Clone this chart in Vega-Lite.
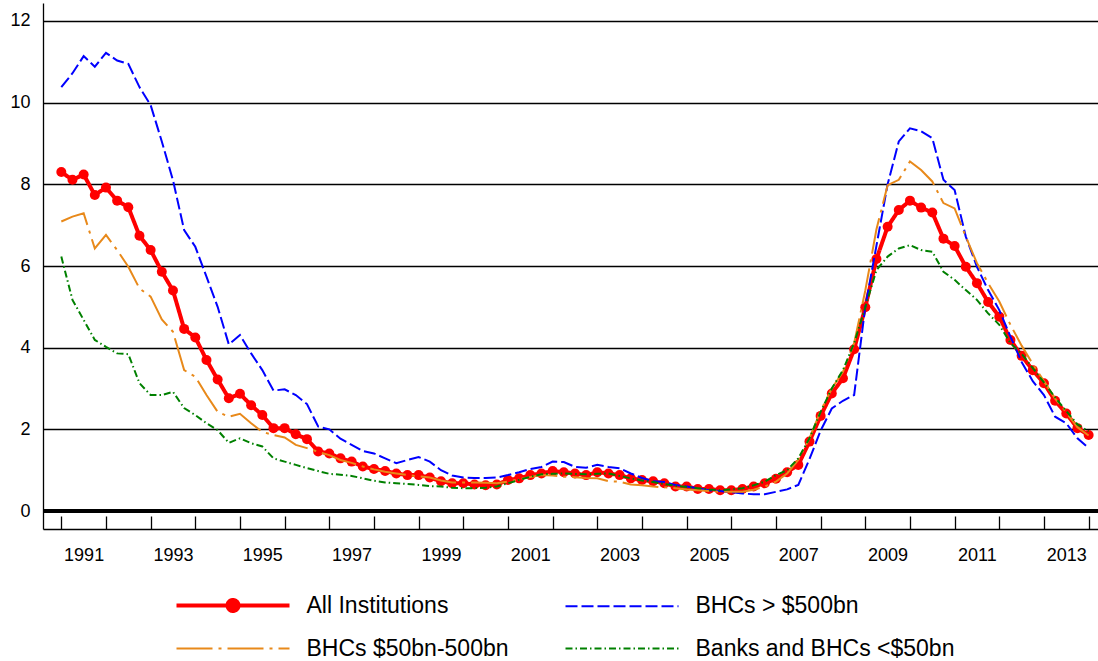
{
  "$schema": "https://vega.github.io/schema/vega-lite/v6.json",
  "width": 1055,
  "height": 526,
  "autosize": "none",
  "padding": {"left": 43, "top": 3, "right": 0, "bottom": 132},
  "background": "#ffffff",
  "config": {
    "view": {"stroke": null},
    "font": "Liberation Sans"
  },
  "data": {
    "values": [
      {"t":1991.00,"All Institutions":8.30,"BHCs > $500bn":10.38,"BHCs $50bn-500bn":7.09,"Banks and BHCs <$50bn":6.23},
      {"t":1991.25,"All Institutions":8.11,"BHCs > $500bn":10.72,"BHCs $50bn-500bn":7.21,"Banks and BHCs <$50bn":5.17},
      {"t":1991.50,"All Institutions":8.24,"BHCs > $500bn":11.14,"BHCs $50bn-500bn":7.29,"Banks and BHCs <$50bn":4.68},
      {"t":1991.75,"All Institutions":7.74,"BHCs > $500bn":10.88,"BHCs $50bn-500bn":6.43,"Banks and BHCs <$50bn":4.19},
      {"t":1992.00,"All Institutions":7.92,"BHCs > $500bn":11.22,"BHCs $50bn-500bn":6.76,"Banks and BHCs <$50bn":4.02},
      {"t":1992.25,"All Institutions":7.60,"BHCs > $500bn":11.03,"BHCs $50bn-500bn":6.39,"Banks and BHCs <$50bn":3.86},
      {"t":1992.50,"All Institutions":7.44,"BHCs > $500bn":10.95,"BHCs $50bn-500bn":5.98,"Banks and BHCs <$50bn":3.84},
      {"t":1992.75,"All Institutions":6.74,"BHCs > $500bn":10.38,"BHCs $50bn-500bn":5.45,"Banks and BHCs <$50bn":3.13},
      {"t":1993.00,"All Institutions":6.39,"BHCs > $500bn":9.94,"BHCs $50bn-500bn":5.25,"Banks and BHCs <$50bn":2.84},
      {"t":1993.25,"All Institutions":5.86,"BHCs > $500bn":9.05,"BHCs $50bn-500bn":4.69,"Banks and BHCs <$50bn":2.84},
      {"t":1993.50,"All Institutions":5.40,"BHCs > $500bn":8.10,"BHCs $50bn-500bn":4.39,"Banks and BHCs <$50bn":2.92},
      {"t":1993.75,"All Institutions":4.46,"BHCs > $500bn":6.88,"BHCs $50bn-500bn":3.45,"Banks and BHCs <$50bn":2.52},
      {"t":1994.00,"All Institutions":4.25,"BHCs > $500bn":6.47,"BHCs $50bn-500bn":3.29,"Banks and BHCs <$50bn":2.35},
      {"t":1994.25,"All Institutions":3.70,"BHCs > $500bn":5.74,"BHCs $50bn-500bn":2.84,"Banks and BHCs <$50bn":2.15},
      {"t":1994.50,"All Institutions":3.22,"BHCs > $500bn":5.00,"BHCs $50bn-500bn":2.43,"Banks and BHCs <$50bn":1.98},
      {"t":1994.75,"All Institutions":2.76,"BHCs > $500bn":4.08,"BHCs $50bn-500bn":2.31,"Banks and BHCs <$50bn":1.67},
      {"t":1995.00,"All Institutions":2.87,"BHCs > $500bn":4.31,"BHCs $50bn-500bn":2.38,"Banks and BHCs <$50bn":1.78},
      {"t":1995.25,"All Institutions":2.59,"BHCs > $500bn":3.86,"BHCs $50bn-500bn":2.15,"Banks and BHCs <$50bn":1.66},
      {"t":1995.50,"All Institutions":2.35,"BHCs > $500bn":3.45,"BHCs $50bn-500bn":1.94,"Banks and BHCs <$50bn":1.58},
      {"t":1995.75,"All Institutions":2.03,"BHCs > $500bn":2.95,"BHCs $50bn-500bn":1.86,"Banks and BHCs <$50bn":1.29},
      {"t":1996.00,"All Institutions":2.03,"BHCs > $500bn":2.98,"BHCs $50bn-500bn":1.80,"Banks and BHCs <$50bn":1.21},
      {"t":1996.25,"All Institutions":1.88,"BHCs > $500bn":2.84,"BHCs $50bn-500bn":1.62,"Banks and BHCs <$50bn":1.13},
      {"t":1996.50,"All Institutions":1.76,"BHCs > $500bn":2.62,"BHCs $50bn-500bn":1.54,"Banks and BHCs <$50bn":1.05},
      {"t":1996.75,"All Institutions":1.46,"BHCs > $500bn":2.07,"BHCs $50bn-500bn":1.45,"Banks and BHCs <$50bn":0.98},
      {"t":1997.00,"All Institutions":1.41,"BHCs > $500bn":2.00,"BHCs $50bn-500bn":1.37,"Banks and BHCs <$50bn":0.91},
      {"t":1997.25,"All Institutions":1.29,"BHCs > $500bn":1.77,"BHCs $50bn-500bn":1.25,"Banks and BHCs <$50bn":0.89},
      {"t":1997.50,"All Institutions":1.21,"BHCs > $500bn":1.62,"BHCs $50bn-500bn":1.18,"Banks and BHCs <$50bn":0.86},
      {"t":1997.75,"All Institutions":1.09,"BHCs > $500bn":1.47,"BHCs $50bn-500bn":1.09,"Banks and BHCs <$50bn":0.80},
      {"t":1998.00,"All Institutions":1.03,"BHCs > $500bn":1.41,"BHCs $50bn-500bn":1.02,"Banks and BHCs <$50bn":0.74},
      {"t":1998.25,"All Institutions":0.98,"BHCs > $500bn":1.29,"BHCs $50bn-500bn":0.96,"Banks and BHCs <$50bn":0.70},
      {"t":1998.50,"All Institutions":0.92,"BHCs > $500bn":1.17,"BHCs $50bn-500bn":0.92,"Banks and BHCs <$50bn":0.68},
      {"t":1998.75,"All Institutions":0.88,"BHCs > $500bn":1.25,"BHCs $50bn-500bn":0.88,"Banks and BHCs <$50bn":0.66},
      {"t":1999.00,"All Institutions":0.88,"BHCs > $500bn":1.32,"BHCs $50bn-500bn":0.85,"Banks and BHCs <$50bn":0.64},
      {"t":1999.25,"All Institutions":0.82,"BHCs > $500bn":1.21,"BHCs $50bn-500bn":0.82,"Banks and BHCs <$50bn":0.61},
      {"t":1999.50,"All Institutions":0.73,"BHCs > $500bn":1.00,"BHCs $50bn-500bn":0.75,"Banks and BHCs <$50bn":0.60},
      {"t":1999.75,"All Institutions":0.68,"BHCs > $500bn":0.87,"BHCs $50bn-500bn":0.70,"Banks and BHCs <$50bn":0.57},
      {"t":2000.00,"All Institutions":0.68,"BHCs > $500bn":0.82,"BHCs $50bn-500bn":0.70,"Banks and BHCs <$50bn":0.56},
      {"t":2000.25,"All Institutions":0.65,"BHCs > $500bn":0.81,"BHCs $50bn-500bn":0.70,"Banks and BHCs <$50bn":0.56},
      {"t":2000.50,"All Institutions":0.63,"BHCs > $500bn":0.81,"BHCs $50bn-500bn":0.69,"Banks and BHCs <$50bn":0.57},
      {"t":2000.75,"All Institutions":0.65,"BHCs > $500bn":0.82,"BHCs $50bn-500bn":0.68,"Banks and BHCs <$50bn":0.60},
      {"t":2001.00,"All Institutions":0.76,"BHCs > $500bn":0.88,"BHCs $50bn-500bn":0.72,"Banks and BHCs <$50bn":0.68},
      {"t":2001.25,"All Institutions":0.80,"BHCs > $500bn":0.95,"BHCs $50bn-500bn":0.78,"Banks and BHCs <$50bn":0.76},
      {"t":2001.50,"All Institutions":0.88,"BHCs > $500bn":1.03,"BHCs $50bn-500bn":0.83,"Banks and BHCs <$50bn":0.84},
      {"t":2001.75,"All Institutions":0.92,"BHCs > $500bn":1.08,"BHCs $50bn-500bn":0.88,"Banks and BHCs <$50bn":0.90},
      {"t":2002.00,"All Institutions":0.98,"BHCs > $500bn":1.21,"BHCs $50bn-500bn":0.87,"Banks and BHCs <$50bn":0.91},
      {"t":2002.25,"All Institutions":0.95,"BHCs > $500bn":1.20,"BHCs $50bn-500bn":0.84,"Banks and BHCs <$50bn":0.92},
      {"t":2002.50,"All Institutions":0.92,"BHCs > $500bn":1.08,"BHCs $50bn-500bn":0.83,"Banks and BHCs <$50bn":0.91},
      {"t":2002.75,"All Institutions":0.88,"BHCs > $500bn":1.06,"BHCs $50bn-500bn":0.81,"Banks and BHCs <$50bn":0.90},
      {"t":2003.00,"All Institutions":0.95,"BHCs > $500bn":1.13,"BHCs $50bn-500bn":0.80,"Banks and BHCs <$50bn":0.91},
      {"t":2003.25,"All Institutions":0.92,"BHCs > $500bn":1.08,"BHCs $50bn-500bn":0.73,"Banks and BHCs <$50bn":0.92},
      {"t":2003.50,"All Institutions":0.88,"BHCs > $500bn":1.05,"BHCs $50bn-500bn":0.72,"Banks and BHCs <$50bn":0.86},
      {"t":2003.75,"All Institutions":0.80,"BHCs > $500bn":0.92,"BHCs $50bn-500bn":0.65,"Banks and BHCs <$50bn":0.80},
      {"t":2004.00,"All Institutions":0.76,"BHCs > $500bn":0.81,"BHCs $50bn-500bn":0.63,"Banks and BHCs <$50bn":0.75},
      {"t":2004.25,"All Institutions":0.73,"BHCs > $500bn":0.73,"BHCs $50bn-500bn":0.60,"Banks and BHCs <$50bn":0.71},
      {"t":2004.50,"All Institutions":0.68,"BHCs > $500bn":0.71,"BHCs $50bn-500bn":0.58,"Banks and BHCs <$50bn":0.66},
      {"t":2004.75,"All Institutions":0.60,"BHCs > $500bn":0.64,"BHCs $50bn-500bn":0.56,"Banks and BHCs <$50bn":0.62},
      {"t":2005.00,"All Institutions":0.60,"BHCs > $500bn":0.60,"BHCs $50bn-500bn":0.53,"Banks and BHCs <$50bn":0.59},
      {"t":2005.25,"All Institutions":0.54,"BHCs > $500bn":0.56,"BHCs $50bn-500bn":0.51,"Banks and BHCs <$50bn":0.56},
      {"t":2005.50,"All Institutions":0.54,"BHCs > $500bn":0.51,"BHCs $50bn-500bn":0.49,"Banks and BHCs <$50bn":0.53},
      {"t":2005.75,"All Institutions":0.51,"BHCs > $500bn":0.49,"BHCs $50bn-500bn":0.47,"Banks and BHCs <$50bn":0.51},
      {"t":2006.00,"All Institutions":0.51,"BHCs > $500bn":0.46,"BHCs $50bn-500bn":0.47,"Banks and BHCs <$50bn":0.53},
      {"t":2006.25,"All Institutions":0.54,"BHCs > $500bn":0.43,"BHCs $50bn-500bn":0.47,"Banks and BHCs <$50bn":0.56},
      {"t":2006.50,"All Institutions":0.60,"BHCs > $500bn":0.41,"BHCs $50bn-500bn":0.52,"Banks and BHCs <$50bn":0.63},
      {"t":2006.75,"All Institutions":0.68,"BHCs > $500bn":0.41,"BHCs $50bn-500bn":0.60,"Banks and BHCs <$50bn":0.72},
      {"t":2007.00,"All Institutions":0.79,"BHCs > $500bn":0.47,"BHCs $50bn-500bn":0.72,"Banks and BHCs <$50bn":0.88},
      {"t":2007.25,"All Institutions":0.95,"BHCs > $500bn":0.53,"BHCs $50bn-500bn":0.92,"Banks and BHCs <$50bn":1.00},
      {"t":2007.50,"All Institutions":1.13,"BHCs > $500bn":0.64,"BHCs $50bn-500bn":1.25,"Banks and BHCs <$50bn":1.29},
      {"t":2007.75,"All Institutions":1.70,"BHCs > $500bn":1.27,"BHCs $50bn-500bn":1.78,"Banks and BHCs <$50bn":1.78},
      {"t":2008.00,"All Institutions":2.33,"BHCs > $500bn":1.97,"BHCs $50bn-500bn":2.45,"Banks and BHCs <$50bn":2.43},
      {"t":2008.25,"All Institutions":2.88,"BHCs > $500bn":2.51,"BHCs $50bn-500bn":3.00,"Banks and BHCs <$50bn":3.00},
      {"t":2008.50,"All Institutions":3.25,"BHCs > $500bn":2.70,"BHCs $50bn-500bn":3.41,"Banks and BHCs <$50bn":3.45},
      {"t":2008.75,"All Institutions":3.96,"BHCs > $500bn":2.84,"BHCs $50bn-500bn":4.11,"Banks and BHCs <$50bn":4.11},
      {"t":2009.00,"All Institutions":4.99,"BHCs > $500bn":5.00,"BHCs $50bn-500bn":5.40,"Banks and BHCs <$50bn":4.99},
      {"t":2009.25,"All Institutions":6.17,"BHCs > $500bn":6.50,"BHCs $50bn-500bn":6.90,"Banks and BHCs <$50bn":5.90},
      {"t":2009.50,"All Institutions":6.96,"BHCs > $500bn":8.00,"BHCs $50bn-500bn":7.98,"Banks and BHCs <$50bn":6.23},
      {"t":2009.75,"All Institutions":7.37,"BHCs > $500bn":9.05,"BHCs $50bn-500bn":8.11,"Banks and BHCs <$50bn":6.43},
      {"t":2010.00,"All Institutions":7.60,"BHCs > $500bn":9.37,"BHCs $50bn-500bn":8.56,"Banks and BHCs <$50bn":6.51},
      {"t":2010.25,"All Institutions":7.43,"BHCs > $500bn":9.30,"BHCs $50bn-500bn":8.35,"Banks and BHCs <$50bn":6.39},
      {"t":2010.50,"All Institutions":7.31,"BHCs > $500bn":9.13,"BHCs $50bn-500bn":8.07,"Banks and BHCs <$50bn":6.35},
      {"t":2010.75,"All Institutions":6.67,"BHCs > $500bn":8.11,"BHCs $50bn-500bn":7.54,"Banks and BHCs <$50bn":5.86},
      {"t":2011.00,"All Institutions":6.49,"BHCs > $500bn":7.86,"BHCs $50bn-500bn":7.41,"Banks and BHCs <$50bn":5.66},
      {"t":2011.25,"All Institutions":5.98,"BHCs > $500bn":6.72,"BHCs $50bn-500bn":6.72,"Banks and BHCs <$50bn":5.41},
      {"t":2011.50,"All Institutions":5.58,"BHCs > $500bn":5.98,"BHCs $50bn-500bn":6.07,"Banks and BHCs <$50bn":5.17},
      {"t":2011.75,"All Institutions":5.12,"BHCs > $500bn":5.41,"BHCs $50bn-500bn":5.58,"Banks and BHCs <$50bn":4.84},
      {"t":2012.00,"All Institutions":4.76,"BHCs > $500bn":4.92,"BHCs $50bn-500bn":5.13,"Banks and BHCs <$50bn":4.56},
      {"t":2012.25,"All Institutions":4.19,"BHCs > $500bn":4.27,"BHCs $50bn-500bn":4.56,"Banks and BHCs <$50bn":4.11},
      {"t":2012.50,"All Institutions":3.80,"BHCs > $500bn":3.65,"BHCs $50bn-500bn":4.05,"Banks and BHCs <$50bn":3.85},
      {"t":2012.75,"All Institutions":3.45,"BHCs > $500bn":3.18,"BHCs $50bn-500bn":3.60,"Banks and BHCs <$50bn":3.50},
      {"t":2013.00,"All Institutions":3.13,"BHCs > $500bn":2.84,"BHCs $50bn-500bn":3.18,"Banks and BHCs <$50bn":3.15},
      {"t":2013.25,"All Institutions":2.70,"BHCs > $500bn":2.31,"BHCs $50bn-500bn":2.75,"Banks and BHCs <$50bn":2.78},
      {"t":2013.50,"All Institutions":2.39,"BHCs > $500bn":2.15,"BHCs $50bn-500bn":2.42,"Banks and BHCs <$50bn":2.45},
      {"t":2013.75,"All Institutions":2.03,"BHCs > $500bn":1.78,"BHCs $50bn-500bn":2.05,"Banks and BHCs <$50bn":2.12},
      {"t":2014.00,"All Institutions":1.86,"BHCs > $500bn":1.54,"BHCs $50bn-500bn":1.85,"Banks and BHCs <$50bn":1.95}
    ]
  },
  "transform": [
    {"fold": ["All Institutions", "BHCs > $500bn", "BHCs $50bn-500bn", "Banks and BHCs <$50bn"], "as": ["series", "value"]}
  ],
  "layer": [
    {
      "mark": {"type": "rule", "color": "#000000", "strokeWidth": 3.5},
      "encoding": {
        "y": {"datum": 0, "type": "quantitative", "scale": {"domain": [-0.44, 12.44], "nice": false, "zero": false},
          "axis": {"values": [0, 2, 4, 6, 8, 10, 12], "title": null, "ticks": false, "grid": true, "gridColor": "#000000", "gridWidth": 1.3, "gridOpacity": 1,
            "domainColor": "#000000", "domainWidth": 1.3, "labelFont": "Liberation Sans", "labelFontSize": 18, "labelColor": "#000000", "labelPadding": 13, "labelFlush": false, "labelOverlap": false}}
      }
    },
    {
      "transform": [{"filter": "datum.series === 'All Institutions'"}],
      "mark": {"type": "line", "strokeWidth": 4},
      "encoding": {
        "x": {"field": "t", "type": "quantitative", "scale": {"domain": [1990.59, 2014.21], "nice": false, "zero": false},
          "axis": {"values": [1991,1992,1993,1994,1995,1996,1997,1998,1999,2000,2001,2002,2003,2004,2005,2006,2007,2008,2009,2010,2011,2012,2013,2014],
            "title": null, "grid": false, "tickSize": -13, "tickColor": "#000000", "tickWidth": 1.3, "domainColor": "#000000", "domainWidth": 1.3,
            "labelExpr": "(datum.value % 2 == 1 && datum.value < 2014) ? '' + datum.value : ''", "labelOffset": 22.3, "labelPadding": 30,
            "labelFont": "Liberation Sans", "labelFontSize": 18, "labelColor": "#000000", "labelFlush": false, "labelOverlap": false, "labelBound": false}},
        "y": {"field": "value", "type": "quantitative"},
        "color": {"field": "series", "type": "nominal",
          "scale": {"domain": ["All Institutions", "BHCs > $500bn", "BHCs $50bn-500bn", "Banks and BHCs <$50bn"], "range": ["#ff0000", "#0000ff", "#e8891a", "#008000"]},
          "legend": {"orient": "none", "legendX": 128, "legendY": 591, "columns": 2, "direction": "horizontal", "title": null, "padding": 0,
            "symbolType": "M-11.3,0H11.3", "symbolSize": 100, "symbolOffset": 50.5, "symbolFillColor": "#ff0000", "symbolStrokeWidth": 2,
            "labelOffset": 62, "labelFont": "Liberation Sans", "labelFontSize": 23, "labelColor": "#000000", "labelLimit": 0,
            "columnPadding": 51, "rowPadding": 18,
            "encode": {"symbols": {"update": {
              "shape": {"signal": "datum.value === 'All Institutions' ? 'M-11.3,0H11.3M-1.1,0A1.1,1.1,0,1,1,1.1,0A1.1,1.1,0,1,1,-1.1,0Z' : 'M-11.3,0H11.3'"},
              "fill": {"value": "#ff0000"},
              "strokeWidth": {"signal": "datum.value === 'All Institutions' ? 4 : 2"}}}}}},
        "strokeDash": {"field": "series", "type": "nominal",
          "scale": {"domain": ["All Institutions", "BHCs > $500bn", "BHCs $50bn-500bn", "Banks and BHCs <$50bn"], "range": [[1, 0], [12, 4], [36, 6, 3, 6], [7, 3, 1.5, 3]]}}
      }
    },
    {
      "transform": [{"filter": "datum.series === 'All Institutions'"}],
      "mark": {"type": "circle", "color": "#ff0000", "size": 100, "opacity": 1},
      "encoding": {
        "x": {"field": "t", "type": "quantitative"},
        "y": {"field": "value", "type": "quantitative"}
      }
    },
    {
      "transform": [{"filter": "datum.series !== 'All Institutions'"}],
      "mark": {"type": "line", "strokeWidth": 2},
      "encoding": {
        "x": {"field": "t", "type": "quantitative"},
        "y": {"field": "value", "type": "quantitative"},
        "color": {"field": "series", "type": "nominal"},
        "strokeDash": {"field": "series", "type": "nominal"}
      }
    }
  ]
}
